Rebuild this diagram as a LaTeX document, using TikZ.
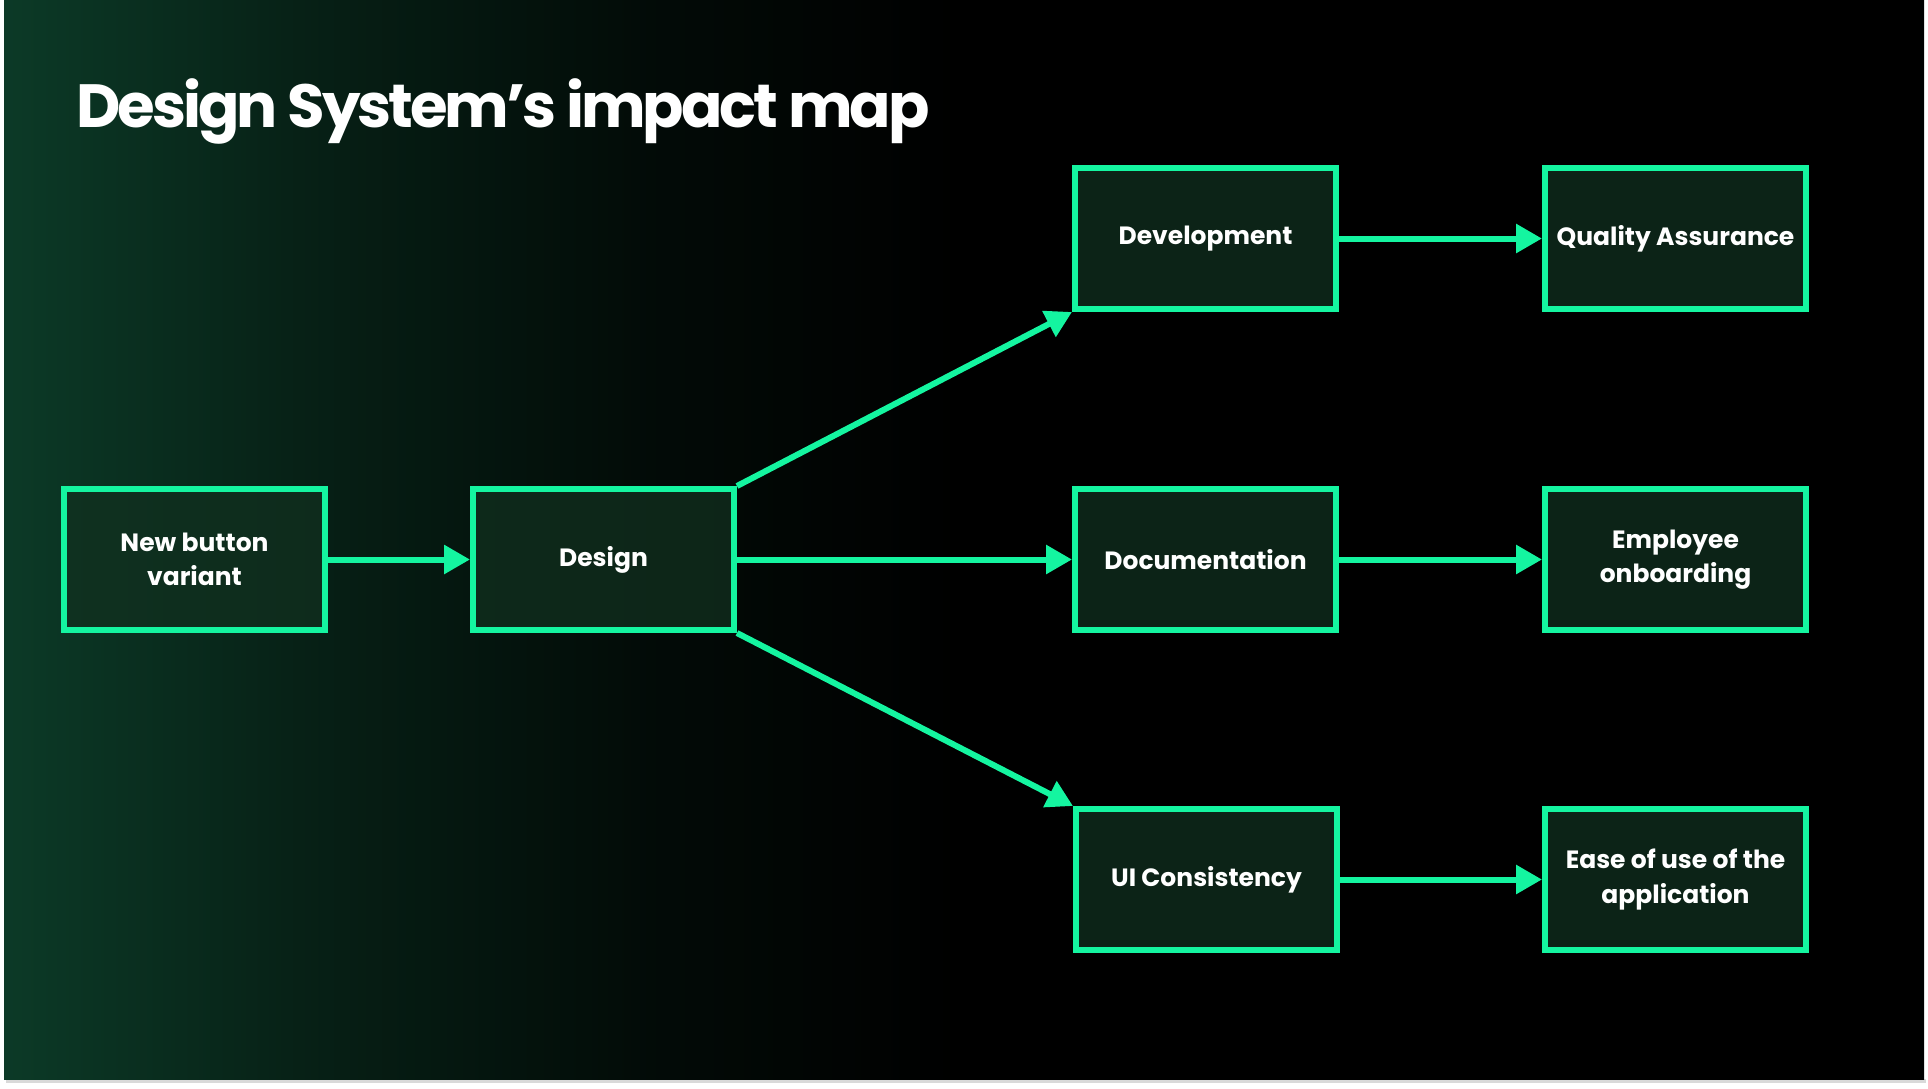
\documentclass[tikz,border=0pt]{standalone}
\usepackage{fontspec}
\setmainfont{Poppins}
\newfontfamily\headfont[LetterSpace=-5.0]{Poppins}
\usetikzlibrary{arrows.meta}
\definecolor{MintLine}{HTML}{14F5A0}
\definecolor{BoxFill}{HTML}{11301F}
\definecolor{DeepGreen}{HTML}{0C3A27}
\definecolor{PageShadow}{HTML}{D9D9D9}
% the path box spans 25bp..75bp of the shading
\pgfdeclarehorizontalshading{slidefade}{100bp}{color(0bp)=(DeepGreen); color(25bp)=(DeepGreen); color(33bp)=(DeepGreen!55!black); color(42bp)=(DeepGreen!18!black); color(50bp)=(black); color(100bp)=(black)}

\begin{document}
\begin{tikzpicture}[x=0.5pt,y=-0.5pt,
    impact/.style={draw=MintLine,line width=3pt,fill=BoxFill,fill opacity=0.75,text opacity=1,text=white,
      font=\bfseries\fontsize{12.5}{17.2}\selectfont,align=center,minimum width=130.5pt,minimum height=70.5pt,inner sep=0pt},
    link/.style={draw=MintLine,line width=3pt,-{Triangle[length=13pt,width=14pt]}}]
  \useasboundingbox (0,0) rectangle (1928,1088);
  % slide background
  \fill[white] (0,0) rectangle (1928,1088);
  \fill[PageShadow] (6,1079) rectangle (1926,1083);
  \shade[shading=slidefade] (4,0) rectangle (1924,1079);
  \node[anchor=base west,inner sep=0pt,text=white,font=\headfont\bfseries\fontsize{30.5}{36}\selectfont] (title) at (76,127) {Design System’s impact map};
  % boxes
  \node[impact] (variant) at (194.5,559.5) {New button\\variant};
  \node[impact] (design)  at (603.5,559.5) {Design};
  \node[impact] (dev)     at (1205.5,238.5) {Development};
  \node[impact] (docs)    at (1205.5,559.5) {Documentation};
  \node[impact] (ui)      at (1206.5,879.5) {UI Consistency};
  \node[impact] (qa)      at (1675.5,238.5) {Quality Assurance};
  \node[impact] (onboard) at (1675.5,559.5) {Employee\\onboarding};
  \node[impact] (ease)    at (1675.5,879.5) {Ease of use of the\\application};
  % arrows
  \draw[link] (variant) -- (design);
  \draw[link] (design.north east) -- (dev.south west);
  \draw[link] (design) -- (docs);
  \draw[link] (design.south east) -- (ui.north west);
  \draw[link] (dev) -- (qa);
  \draw[link] (docs) -- (onboard);
  \draw[link] (ui) -- (ease);
\end{tikzpicture}
\end{document}
